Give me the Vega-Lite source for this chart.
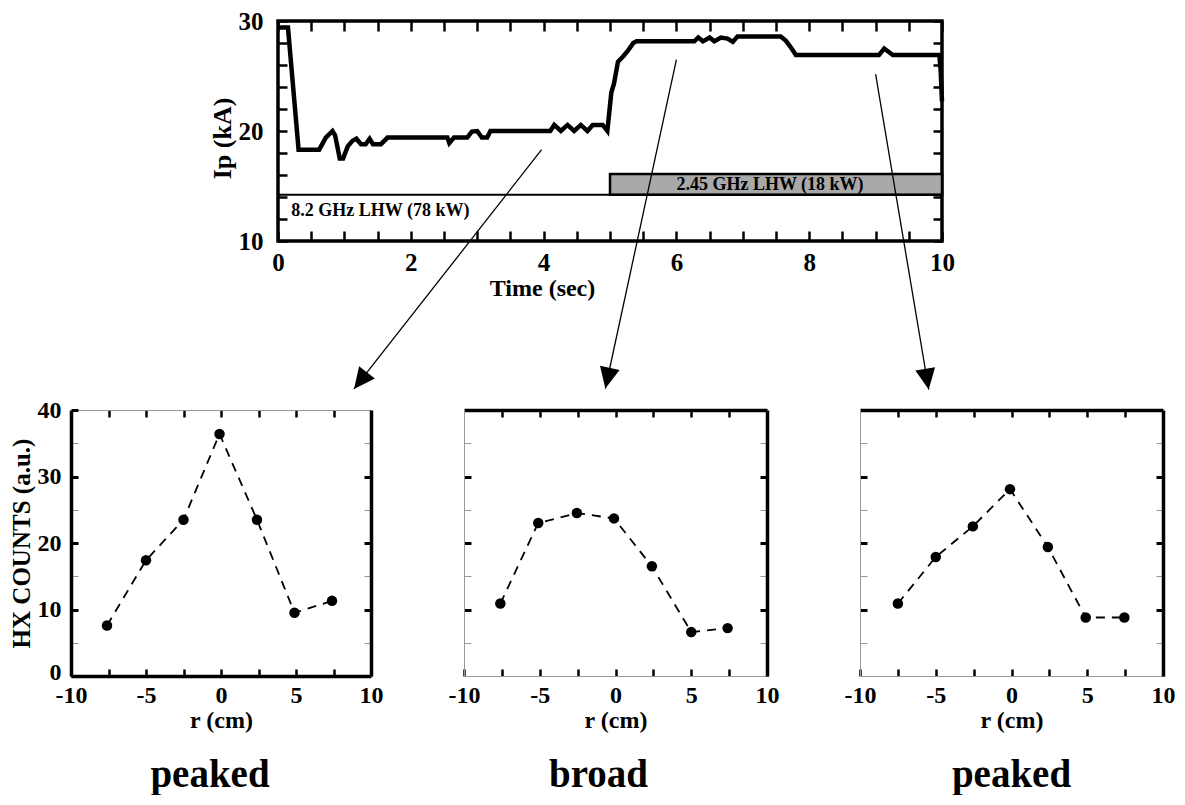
{
  "$schema": "https://vega.github.io/schema/vega-lite/v6.json",
  "background": "white",
  "padding": {"left": 9, "top": 7, "right": 0, "bottom": 0},
  "autosize": {"type": "pad"},
  "config": {
    "font": "Liberation Serif",
    "view": {"stroke": null},
    "axis": {
      "labelFont": "Liberation Serif", "labelFontWeight": "bold", "labelColor": "black",
      "titleFont": "Liberation Serif", "titleFontWeight": "bold", "titleColor": "black",
      "grid": false, "tickColor": "black", "labelFlush": false, "labelOverlap": false, "labelBound": false
    },
    "title": {"font": "Liberation Serif", "fontWeight": "bold", "fontSize": 39, "color": "black"}
  },
  "spacing": 4,
  "vconcat": [
    {
      "spacing": 0,
      "hconcat": [
        {
          "width": 136, "height": 220,
          "data": {"values": [{"k": 1}]},
          "mark": {"type": "text", "text": ""},
          "encoding": {}
        },
        {
          "width": 664, "height": 220,
          "view": {"stroke": "black", "strokeWidth": 3.5},
          "resolve": {"axis": {"x": "independent", "y": "independent"}},
          "layer": [
            {
              "data": {"values": [
                {"t": 0, "ip": 29.4}, {"t": 0.15, "ip": 29.4}, {"t": 0.31, "ip": 18.3}, {"t": 0.62, "ip": 18.3},
                {"t": 0.72, "ip": 19.4}, {"t": 0.82, "ip": 20.0}, {"t": 0.86, "ip": 19.6}, {"t": 0.93, "ip": 17.5},
                {"t": 0.98, "ip": 17.5}, {"t": 1.05, "ip": 18.6}, {"t": 1.12, "ip": 19.1}, {"t": 1.18, "ip": 19.3},
                {"t": 1.25, "ip": 18.8}, {"t": 1.32, "ip": 18.8}, {"t": 1.38, "ip": 19.3}, {"t": 1.43, "ip": 18.8},
                {"t": 1.55, "ip": 18.8}, {"t": 1.65, "ip": 19.4}, {"t": 2.55, "ip": 19.4}, {"t": 2.58, "ip": 18.9},
                {"t": 2.65, "ip": 19.4}, {"t": 2.85, "ip": 19.4}, {"t": 2.92, "ip": 19.95}, {"t": 3.0, "ip": 20.0},
                {"t": 3.07, "ip": 19.4}, {"t": 3.15, "ip": 19.4}, {"t": 3.2, "ip": 20.0}, {"t": 4.1, "ip": 20.0},
                {"t": 4.16, "ip": 20.55}, {"t": 4.26, "ip": 20.0}, {"t": 4.36, "ip": 20.55}, {"t": 4.46, "ip": 20.0},
                {"t": 4.56, "ip": 20.55}, {"t": 4.66, "ip": 20.0}, {"t": 4.74, "ip": 20.55}, {"t": 4.89, "ip": 20.55},
                {"t": 4.96, "ip": 20.0}, {"t": 5.02, "ip": 23.5}, {"t": 5.06, "ip": 24.3}, {"t": 5.12, "ip": 26.3},
                {"t": 5.2, "ip": 26.8}, {"t": 5.27, "ip": 27.3}, {"t": 5.35, "ip": 28.0}, {"t": 5.4, "ip": 28.15},
                {"t": 6.27, "ip": 28.15}, {"t": 6.33, "ip": 28.5}, {"t": 6.4, "ip": 28.15}, {"t": 6.5, "ip": 28.5},
                {"t": 6.57, "ip": 28.15}, {"t": 6.67, "ip": 28.5}, {"t": 6.77, "ip": 28.4}, {"t": 6.85, "ip": 28.1},
                {"t": 6.92, "ip": 28.6}, {"t": 7.57, "ip": 28.6}, {"t": 7.65, "ip": 28.2}, {"t": 7.73, "ip": 27.55},
                {"t": 7.8, "ip": 26.9}, {"t": 9.05, "ip": 26.9}, {"t": 9.13, "ip": 27.5}, {"t": 9.26, "ip": 26.9},
                {"t": 9.96, "ip": 26.9}, {"t": 9.98, "ip": 25.5}, {"t": 10.0, "ip": 22.7}
              ]},
              "mark": {"type": "line", "color": "black", "strokeWidth": 4.5},
              "encoding": {
                "x": {"field": "t", "type": "quantitative", "scale": {"domain": [0, 10], "nice": false},
                  "axis": {"orient": "bottom", "values": [0,0.5,1,1.5,2,2.5,3,3.5,4,4.5,5,5.5,6,6.5,7,7.5,8,8.5,9,9.5,10],
                    "labelExpr": "datum.value % 2 === 0 ? '' + datum.value : ''",
                    "tickSize": -10, "tickWidth": 2.5, "domain": false, "labelFontSize": 25, "labelPadding": 19,
                    "title": "Time (sec)", "titleFontSize": 24, "titleX": 264, "titleY": 54, "titleBaseline": "alphabetic"}},
                "y": {"field": "ip", "type": "quantitative", "scale": {"domain": [10, 30], "nice": false, "zero": false},
                  "axis": {"orient": "left", "values": [10,12,14,16,18,20,22,24,26,28,30],
                    "labelExpr": "datum.value % 10 === 0 ? '' + datum.value : ''",
                    "tickSize": -9, "tickWidth": 2.5, "domain": false, "labelFontSize": 25, "labelPadding": 24,
                    "title": "Ip (kA)", "titleFontSize": 26, "titleX": -48, "titleY": 117, "titleBaseline": "alphabetic"}}
              }
            },
            {
              "data": {"values": [{"t0": 5, "t1": 10, "y0": 14.2, "y1": 16.1}]},
              "mark": {"type": "rect", "fill": "#a9a9a9", "stroke": "black", "strokeWidth": 2.5},
              "encoding": {
                "x": {"field": "t0", "type": "quantitative", "scale": {"domain": [0, 10], "nice": false},
                  "axis": {"orient": "top", "values": [0,0.5,1,1.5,2,2.5,3,3.5,4,4.5,5,5.5,6,6.5,7,7.5,8,8.5,9,9.5,10],
                    "labels": false, "tickSize": -10, "tickWidth": 2.5, "domain": false, "title": null}},
                "x2": {"field": "t1"},
                "y": {"field": "y0", "type": "quantitative", "scale": {"domain": [10, 30], "nice": false, "zero": false},
                  "axis": {"orient": "right", "values": [10,12,14,16,18,20,22,24,26,28,30],
                    "labels": false, "tickSize": -9, "tickWidth": 2.5, "domain": false, "title": null}},
                "y2": {"field": "y1"}
              }
            },
            {
              "data": {"values": [{"t0": 0, "t1": 10, "y": 14.2}]},
              "mark": {"type": "rule", "color": "black", "strokeWidth": 2},
              "encoding": {
                "x": {"field": "t0", "type": "quantitative", "scale": {"domain": [0, 10], "nice": false}, "axis": null},
                "x2": {"field": "t1"},
                "y": {"field": "y", "type": "quantitative", "scale": {"domain": [10, 30], "nice": false, "zero": false}, "axis": null}
              }
            },
            {
              "data": {"values": [
                {"t": 0.2, "ip": 12.3, "label": "8.2 GHz LHW (78 kW)"},
                {"t": 6.0, "ip": 14.65, "label": "2.45 GHz LHW (18 kW)"}
              ]},
              "mark": {"type": "text", "align": "left", "baseline": "alphabetic", "fontSize": 18, "fontWeight": "bold", "font": "Liberation Serif", "color": "black"},
              "encoding": {
                "x": {"field": "t", "type": "quantitative", "scale": {"domain": [0, 10], "nice": false}, "axis": null},
                "y": {"field": "ip", "type": "quantitative", "scale": {"domain": [10, 30], "nice": false, "zero": false}, "axis": null},
                "text": {"field": "label"}
              }
            },
            {
              "data": {"values": [
                {"a": "A", "t": 3.97, "ip": 18.3}, {"a": "A", "t": 1.145, "ip": -3.45},
                {"a": "B", "t": 6.0, "ip": 26.48}, {"a": "B", "t": 4.93, "ip": -3.41},
                {"a": "C", "t": 9.0, "ip": 25.18}, {"a": "C", "t": 9.8, "ip": -3.5}
              ]},
              "mark": {"type": "line", "color": "black", "strokeWidth": 1.3, "clip": false},
              "encoding": {
                "x": {"field": "t", "type": "quantitative", "scale": {"domain": [0, 10], "nice": false}, "axis": null},
                "y": {"field": "ip", "type": "quantitative", "scale": {"domain": [10, 30], "nice": false, "zero": false}, "axis": null},
                "detail": {"field": "a"}
              }
            },
            {
              "data": {"values": [{"t": 1.145, "ip": -3.45}]},
              "mark": {"type": "point", "shape": "M0,0L-1,-2.1L1,-2.1Z", "size": 400, "filled": true, "color": "black", "opacity": 1, "angle": 38.1, "clip": false},
              "encoding": {
                "x": {"field": "t", "type": "quantitative", "scale": {"domain": [0, 10], "nice": false}, "axis": null},
                "y": {"field": "ip", "type": "quantitative", "scale": {"domain": [10, 30], "nice": false, "zero": false}, "axis": null}
              }
            },
            {
              "data": {"values": [{"t": 4.93, "ip": -3.41}]},
              "mark": {"type": "point", "shape": "M0,0L-1,-2.1L1,-2.1Z", "size": 400, "filled": true, "color": "black", "opacity": 1, "angle": 12.2, "clip": false},
              "encoding": {
                "x": {"field": "t", "type": "quantitative", "scale": {"domain": [0, 10], "nice": false}, "axis": null},
                "y": {"field": "ip", "type": "quantitative", "scale": {"domain": [10, 30], "nice": false, "zero": false}, "axis": null}
              }
            },
            {
              "data": {"values": [{"t": 9.8, "ip": -3.5}]},
              "mark": {"type": "point", "shape": "M0,0L-1,-2.1L1,-2.1Z", "size": 400, "filled": true, "color": "black", "opacity": 1, "angle": -9.6, "clip": false},
              "encoding": {
                "x": {"field": "t", "type": "quantitative", "scale": {"domain": [0, 10], "nice": false}, "axis": null},
                "y": {"field": "ip", "type": "quantitative", "scale": {"domain": [10, 30], "nice": false, "zero": false}, "axis": null}
              }
            }
          ]
        }
      ]
    },
    {
      "spacing": 93,
      "bounds": "flush",
      "hconcat": [
        {
          "width": 300, "height": 266,
          "title": {"text": "peaked", "orient": "bottom", "frame": "group", "anchor": "middle", "offset": 24, "dx": -11},
          "data": {"values": [
            {"r": -7.6, "c": 7.6}, {"r": -5.0, "c": 17.4}, {"r": -2.5, "c": 23.5}, {"r": -0.1, "c": 36.4},
            {"r": 2.4, "c": 23.5}, {"r": 4.9, "c": 9.5}, {"r": 7.4, "c": 11.3}
          ]},
          "resolve": {"axis": {"x": "independent", "y": "independent"}},
          "layer": [
            {
              "mark": {"type": "line", "color": "black", "strokeWidth": 1.8, "strokeDash": [9, 7]},
              "encoding": {
                "x": {"field": "r", "type": "quantitative", "scale": {"domain": [-10, 10], "nice": false},
                  "axis": {"orient": "bottom", "values": [-10,-7.5,-5,-2.5,0,2.5,5,7.5,10],
                    "labelExpr": "datum.value % 5 === 0 ? '' + datum.value : ''",
                    "tickSize": -7, "tickWidth": 2.5, "domain": true, "domainColor": "black", "domainWidth": 3.5,
                    "labelFontSize": 24, "labelPadding": 14, "title": "r (cm)", "titleFontSize": 24, "titlePadding": 1}},
                "y": {"field": "c", "type": "quantitative", "scale": {"domain": [0, 40], "nice": false},
                  "axis": {"orient": "left", "values": [0,5,10,15,20,25,30,35,40],
                    "labelExpr": "datum.value % 10 === 0 ? '' + datum.value : ''",
                    "labelOffset": {"condition": {"test": "datum.value === 0", "value": -4}, "value": 0},
                    "tickSize": -7,
                    "tickWidth": {"condition": {"test": "datum.value % 10 === 0", "value": 3}, "value": 1},
                    "tickColor": {"condition": {"test": "datum.value % 10 === 0", "value": "black"}, "value": "#999999"},
                    "domain": true, "domainColor": "black", "domainWidth": 3.5,
                    "labelFontSize": 24, "labelPadding": 17, "title": "HX COUNTS (a.u.)", "titleFontSize": 25, "titlePadding": 3}}
              }
            },
            {
              "mark": {"type": "circle", "color": "black", "size": 110, "opacity": 1},
              "encoding": {
                "x": {"field": "r", "type": "quantitative", "scale": {"domain": [-10, 10], "nice": false},
                  "axis": {"orient": "top", "values": [-7.5,-5,-2.5,0,2.5,5,7.5], "labels": false,
                    "tickSize": -7, "tickWidth": 2.5, "domain": true, "domainColor": "#999999", "domainWidth": 1, "title": null}},
                "y": {"field": "c", "type": "quantitative", "scale": {"domain": [0, 40], "nice": false},
                  "axis": {"orient": "right", "values": [5,10,15,20,25,30,35], "labels": false,
                    "tickSize": -7,
                    "tickWidth": {"condition": {"test": "datum.value % 10 === 0", "value": 3}, "value": 1},
                    "tickColor": {"condition": {"test": "datum.value % 10 === 0", "value": "black"}, "value": "#999999"},
                    "domain": true, "domainColor": "black", "domainWidth": 3.5, "title": null}}
              }
            }
          ]
        },
        {
          "width": 303, "height": 266,
          "title": {"text": "broad", "orient": "bottom", "frame": "group", "anchor": "middle", "offset": 24, "dx": -17},
          "data": {"values": [
            {"r": -7.6, "c": 10.9}, {"r": -5.1, "c": 23.0}, {"r": -2.55, "c": 24.5}, {"r": -0.1, "c": 23.7},
            {"r": 2.4, "c": 16.5}, {"r": 5.0, "c": 6.6}, {"r": 7.4, "c": 7.2}
          ]},
          "resolve": {"axis": {"x": "independent", "y": "independent"}},
          "layer": [
            {
              "mark": {"type": "line", "color": "black", "strokeWidth": 1.8, "strokeDash": [9, 7]},
              "encoding": {
                "x": {"field": "r", "type": "quantitative", "scale": {"domain": [-10, 10], "nice": false},
                  "axis": {"orient": "bottom", "values": [-10,-7.5,-5,-2.5,0,2.5,5,7.5,10],
                    "labelExpr": "datum.value % 5 === 0 ? '' + datum.value : ''",
                    "tickSize": -7, "tickWidth": 2.5, "domain": true, "domainColor": "#999999", "domainWidth": 1,
                    "labelFontSize": 24, "labelPadding": 14, "title": "r (cm)", "titleFontSize": 24, "titlePadding": 1}},
                "y": {"field": "c", "type": "quantitative", "scale": {"domain": [0, 40], "nice": false},
                  "axis": {"orient": "left", "values": [5,10,15,20,25,30,35], "labels": false,
                    "tickSize": -7,
                    "tickWidth": {"condition": {"test": "datum.value % 10 === 0", "value": 3}, "value": 1},
                    "tickColor": {"condition": {"test": "datum.value % 10 === 0", "value": "black"}, "value": "#999999"},
                    "domain": true, "domainColor": "#999999", "domainWidth": 1, "title": null}}
              }
            },
            {
              "mark": {"type": "circle", "color": "black", "size": 110, "opacity": 1},
              "encoding": {
                "x": {"field": "r", "type": "quantitative", "scale": {"domain": [-10, 10], "nice": false},
                  "axis": {"orient": "top", "values": [-7.5,-5,-2.5,0,2.5,5,7.5], "labels": false,
                    "tickSize": -7, "tickWidth": 2.5, "domain": true, "domainColor": "black", "domainWidth": 3.5, "title": null}},
                "y": {"field": "c", "type": "quantitative", "scale": {"domain": [0, 40], "nice": false},
                  "axis": {"orient": "right", "values": [5,10,15,20,25,30,35], "labels": false,
                    "tickSize": -7,
                    "tickWidth": {"condition": {"test": "datum.value % 10 === 0", "value": 3}, "value": 1},
                    "tickColor": {"condition": {"test": "datum.value % 10 === 0", "value": "black"}, "value": "#999999"},
                    "domain": true, "domainColor": "black", "domainWidth": 3.5, "title": null}}
              }
            }
          ]
        },
        {
          "width": 303, "height": 266,
          "title": {"text": "peaked", "orient": "bottom", "frame": "group", "anchor": "middle", "offset": 24, "dx": 0},
          "data": {"values": [
            {"r": -7.5, "c": 10.9}, {"r": -5.0, "c": 17.9}, {"r": -2.55, "c": 22.5}, {"r": -0.1, "c": 28.1},
            {"r": 2.4, "c": 19.4}, {"r": 4.9, "c": 8.8}, {"r": 7.45, "c": 8.8}
          ]},
          "resolve": {"axis": {"x": "independent", "y": "independent"}},
          "layer": [
            {
              "mark": {"type": "line", "color": "black", "strokeWidth": 1.8, "strokeDash": [9, 7]},
              "encoding": {
                "x": {"field": "r", "type": "quantitative", "scale": {"domain": [-10, 10], "nice": false},
                  "axis": {"orient": "bottom", "values": [-10,-7.5,-5,-2.5,0,2.5,5,7.5,10],
                    "labelExpr": "datum.value % 5 === 0 ? '' + datum.value : ''",
                    "tickSize": -7, "tickWidth": 2.5, "domain": true, "domainColor": "#999999", "domainWidth": 1,
                    "labelFontSize": 24, "labelPadding": 14, "title": "r (cm)", "titleFontSize": 24, "titlePadding": 1}},
                "y": {"field": "c", "type": "quantitative", "scale": {"domain": [0, 40], "nice": false},
                  "axis": {"orient": "left", "values": [5,10,15,20,25,30,35], "labels": false,
                    "tickSize": -7,
                    "tickWidth": {"condition": {"test": "datum.value % 10 === 0", "value": 3}, "value": 1},
                    "tickColor": {"condition": {"test": "datum.value % 10 === 0", "value": "black"}, "value": "#999999"},
                    "domain": true, "domainColor": "#999999", "domainWidth": 1, "title": null}}
              }
            },
            {
              "mark": {"type": "circle", "color": "black", "size": 110, "opacity": 1},
              "encoding": {
                "x": {"field": "r", "type": "quantitative", "scale": {"domain": [-10, 10], "nice": false},
                  "axis": {"orient": "top", "values": [-7.5,-5,-2.5,0,2.5,5,7.5], "labels": false,
                    "tickSize": -7, "tickWidth": 2.5, "domain": true, "domainColor": "black", "domainWidth": 3.5, "title": null}},
                "y": {"field": "c", "type": "quantitative", "scale": {"domain": [0, 40], "nice": false},
                  "axis": {"orient": "right", "values": [5,10,15,20,25,30,35], "labels": false,
                    "tickSize": -7,
                    "tickWidth": {"condition": {"test": "datum.value % 10 === 0", "value": 3}, "value": 1},
                    "tickColor": {"condition": {"test": "datum.value % 10 === 0", "value": "black"}, "value": "#999999"},
                    "domain": true, "domainColor": "black", "domainWidth": 3.5, "title": null}}
              }
            }
          ]
        }
      ]
    }
  ]
}
